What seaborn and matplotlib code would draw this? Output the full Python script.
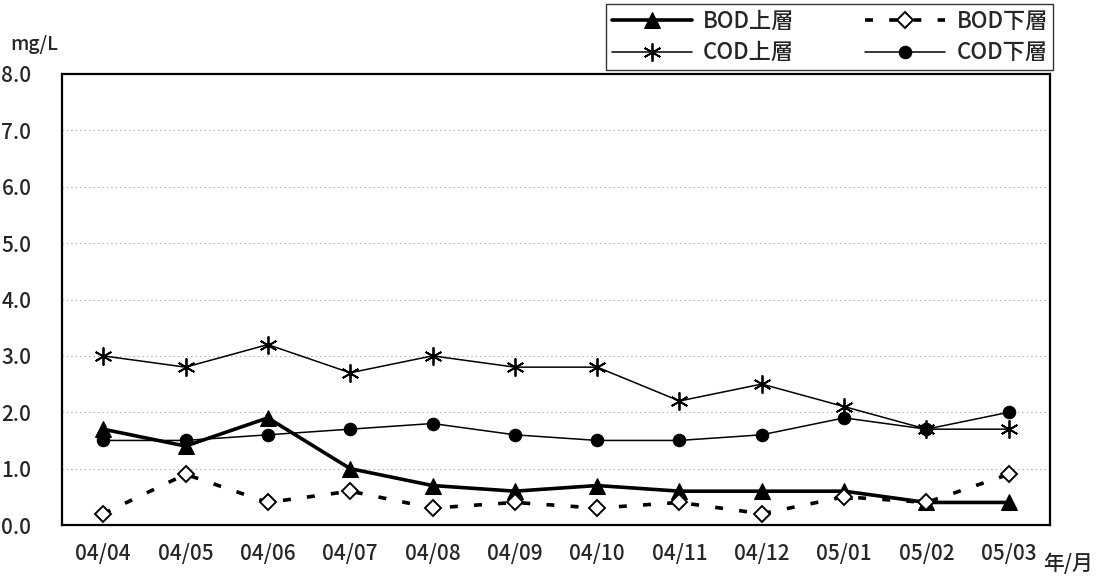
import matplotlib
matplotlib.use("Agg")
import matplotlib.pyplot as plt
import seaborn as sns
import pandas as pd

months = ["04/04", "04/05", "04/06", "04/07", "04/08", "04/09",
          "04/10", "04/11", "04/12", "05/01", "05/02", "05/03"]
bod_upper = [1.7, 1.4, 1.9, 1.0, 0.7, 0.6, 0.7, 0.6, 0.6, 0.6, 0.4, 0.4]
bod_lower = [0.2, 0.9, 0.4, 0.6, 0.3, 0.4, 0.3, 0.4, 0.2, 0.5, 0.4, 0.9]
cod_upper = [3.0, 2.8, 3.2, 2.7, 3.0, 2.8, 2.8, 2.2, 2.5, 2.1, 1.7, 1.7]
cod_lower = [1.5, 1.5, 1.6, 1.7, 1.8, 1.6, 1.5, 1.5, 1.6, 1.9, 1.7, 2.0]
yticks = [0.0, 1.0, 2.0, 3.0, 4.0, 5.0, 6.0, 7.0, 8.0]

sns.set_theme(style="white")
plt.rcParams['font.family'] = ['Noto Sans CJK JP', 'DejaVu Sans']
plt.rcParams['font.weight'] = 'medium'

fig = plt.figure(figsize=(11.09, 5.79), dpi=100)
ax = fig.add_axes([62/1109, 1-525/579, (1050-62)/1109, (525-74)/579])

series = [
    ("BOD上層", bod_upper, dict(marker="^", markersize=11, linewidth=2.6,
                                  markerfacecolor="black", markeredgecolor="black", linestyle="-")),
    ("COD上層", cod_upper, dict(marker=(6, 2, 0), markersize=13, linewidth=1.1,
                                  markeredgewidth=1.3, markeredgecolor="black", linestyle="-")),
    ("BOD下層", bod_lower, dict(marker="D", markersize=8, linewidth=2.6,
                                  markerfacecolor="white", markeredgecolor="black",
                                  markeredgewidth=1.4, linestyle=(0, (2.2, 4.5)))),
    ("COD下層", cod_lower, dict(marker="o", markersize=9, linewidth=1.1,
                                  markerfacecolor="black", markeredgecolor="black", linestyle="-")),
]

x = list(range(len(months)))
for name, vals, kw in series:
    df = pd.DataFrame({"x": x, "y": vals})
    sns.lineplot(data=df, x="x", y="y", ax=ax, color="black", label=name, **kw)

ax.set_xlim(-0.5, len(months) - 0.5)
ax.set_ylim(0, 8)
ax.set_yticks(yticks)
ax.set_yticklabels([f"{v:.1f}" for v in yticks], fontsize=15)
ax.set_xticks(x)
ax.set_xticklabels(months, fontsize=15)
ax.set_xticks([i + 0.5 for i in x[:-1]], minor=True)
ax.tick_params(axis="x", which="major", length=0, pad=13)
ax.tick_params(axis="x", which="minor", direction="in", length=6, width=1, color="black")
ax.tick_params(axis="y", length=0, pad=22)
for yv in yticks[1:-1]:
    ax.axhline(yv, color="#999999", linewidth=0.8, linestyle=(0, (1, 3)), zorder=0)
for s in ax.spines.values():
    s.set_color("black")
    s.set_linewidth(1.6)
ax.set_xlabel("")
ax.set_ylabel("")

fig.text(10/1109, 1-45/579, "mg/L", fontsize=14, va="center", ha="left")
fig.text(1043/1109, 1-564/579, "年/月", fontsize=15, va="center", ha="left")

handles, labels = ax.get_legend_handles_labels()
leg = fig.legend(handles, labels, ncol=2, loc="upper left",
                 bbox_to_anchor=(606/1109, 1-4/579), fontsize=16,
                 frameon=True, fancybox=False, edgecolor="black",
                 handlelength=3.6, columnspacing=3.2, borderpad=0.25,
                 labelspacing=0.4, handletextpad=0.5, borderaxespad=0)
leg.get_frame().set_linewidth(1.0)
if ax.get_legend():
    ax.get_legend().remove()

fig.savefig("out.png", dpi=100)
